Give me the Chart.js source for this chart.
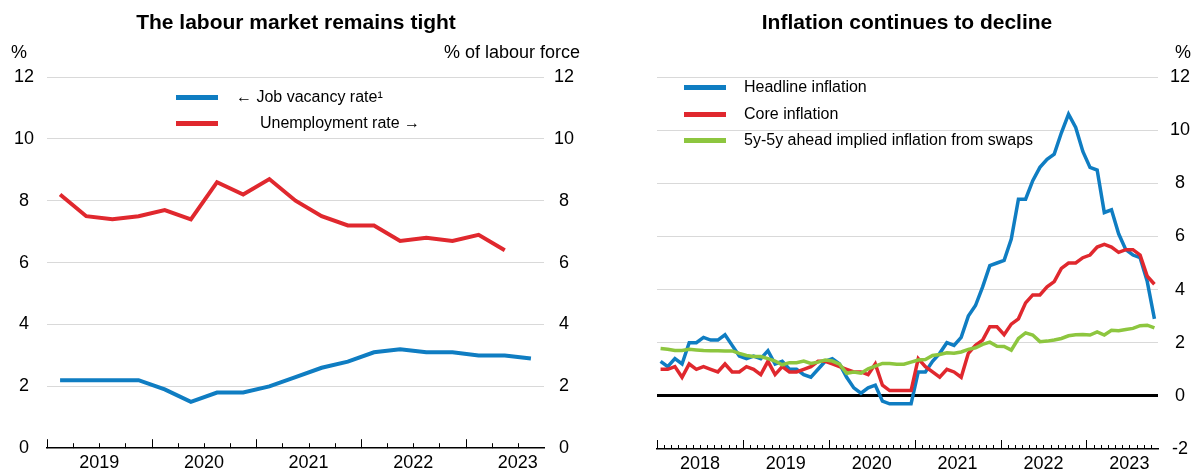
<!DOCTYPE html>
<html>
<head>
<meta charset="utf-8">
<script src="https://cdn.jsdelivr.net/npm/chart.js@4"></script>
<style>
  body { margin: 0; width: 1203px; height: 472px; background: #fff; position: relative; overflow: hidden;
         font-family: "Liberation Sans", Arial, sans-serif; color: #000; }
  .panel { position: absolute; top: 0; height: 472px; }
  .panel canvas { display: block; }
  .title { position: absolute; top: 10px; font-weight: bold; font-size: 21px; white-space: nowrap; transform: translateX(-50%); }
  .unit { position: absolute; top: 42px; font-size: 18px; white-space: nowrap; }
  .leg { position: absolute; font-size: 16px; white-space: nowrap; line-height: 20px; }
  .swatch { position: absolute; width: 42px; height: 4.5px; }
</style>
</head>
<body>

<div class="panel" style="left:0;width:600px"><canvas id="chart-labour" width="600" height="472"></canvas></div>
<div class="panel" style="left:600px;width:603px"><canvas id="chart-inflation" width="603" height="472"></canvas></div>

<div class="title" style="left:296px">The labour market remains tight</div>
<div class="title" style="left:907px">Inflation continues to decline</div>

<div class="unit" style="left:11px">%</div>
<div class="unit" style="right:623px">% of labour force</div>
<div class="unit" style="left:1175px">%</div>

<div class="swatch" style="left:176px;top:95px;background:#0F7DC2"></div>
<div class="leg" style="left:236px;top:87px">← Job vacancy rate¹</div>
<div class="swatch" style="left:176px;top:121px;background:#E0282E"></div>
<div class="leg" style="left:260px;top:113px">Unemployment rate →</div>

<div class="swatch" style="left:684px;top:85px;background:#0F7DC2"></div>
<div class="leg" style="left:744px;top:77px">Headline inflation</div>
<div class="swatch" style="left:684px;top:112px;background:#E0282E"></div>
<div class="leg" style="left:744px;top:104px">Core inflation</div>
<div class="swatch" style="left:684px;top:138px;background:#8DC63F"></div>
<div class="leg" style="left:744px;top:130px">5y-5y ahead implied inflation from swaps</div>

<script>
// quarterly data, 2019 Q1 - 2023 Q3
var quarters = ['2019Q1','2019Q2','2019Q3','2019Q4','2020Q1','2020Q2','2020Q3','2020Q4',
  '2021Q1','2021Q2','2021Q3','2021Q4','2022Q1','2022Q2','2022Q3','2022Q4','2023Q1','2023Q2','2023Q3'];
var jobVacancy = [2.2,2.2,2.2,2.2,1.9,1.5,1.8,1.8,2.0,2.3,2.6,2.8,3.1,3.2,3.1,3.1,3.0,3.0,2.9];
var unemployment = [8.2,7.5,7.4,7.5,7.7,7.4,8.6,8.2,8.7,8.0,7.5,7.2,7.2,6.7,6.8,6.7,6.9,6.4];
var labourYears = ['2019','2020','2021','2022','2023'];

// monthly data, Jan 2018 - Oct 2023
var monthCount = 70;
var headline = [
  1.3,1.1,1.4,1.2,2.0,2.0,2.2,2.1,2.1,2.3,1.9,1.5,
  1.4,1.5,1.4,1.7,1.2,1.3,1.0,1.0,0.8,0.7,1.0,1.3,
  1.4,1.2,0.7,0.3,0.1,0.3,0.4,-0.2,-0.3,-0.3,-0.3,-0.3,
  0.9,0.9,1.3,1.6,2.0,1.9,2.2,3.0,3.4,4.1,4.9,5.0,
  5.1,5.9,7.4,7.4,8.1,8.6,8.9,9.1,9.9,10.6,10.1,9.2,
  8.6,8.5,6.9,7.0,6.1,5.5,5.3,5.2,4.3,2.9];
var core = [
  1.0,1.0,1.1,0.7,1.2,1.0,1.1,1.0,0.9,1.2,0.9,0.9,
  1.1,1.0,0.8,1.3,0.8,1.1,0.9,0.9,1.0,1.1,1.3,1.3,
  1.2,1.1,1.0,0.9,0.9,0.8,1.2,0.4,0.2,0.2,0.2,0.2,
  1.4,1.1,0.9,0.7,1.0,0.9,0.7,1.6,1.9,2.1,2.6,2.6,
  2.3,2.7,2.9,3.5,3.8,3.8,4.1,4.3,4.8,5.0,5.0,5.2,
  5.3,5.6,5.7,5.6,5.4,5.5,5.5,5.3,4.5,4.2];
var swaps = [
  1.78,1.75,1.71,1.71,1.75,1.73,1.71,1.70,1.70,1.69,1.69,1.60,
  1.52,1.48,1.48,1.40,1.31,1.17,1.25,1.25,1.31,1.22,1.27,1.35,
  1.31,1.19,0.85,0.90,0.85,1.02,1.12,1.22,1.22,1.19,1.19,1.27,
  1.35,1.37,1.52,1.56,1.62,1.60,1.65,1.75,1.81,1.94,2.02,1.87,
  1.86,1.72,2.16,2.37,2.29,2.04,2.06,2.10,2.16,2.26,2.30,2.31,
  2.29,2.41,2.29,2.47,2.45,2.50,2.54,2.64,2.66,2.56];
var inflationYears = ['2018','2019','2020','2021','2022','2023'];

var BLUE = '#0F7DC2', RED = '#E0282E', GREEN = '#8DC63F', GRID = '#d9d9d9';
var FONT = { family: '"Liberation Sans", Arial, sans-serif', size: 18 };

// points sit in the middle of each period
function toPoints(arr) {
  return arr.map(function(v, i) { return { x: i + 0.5, y: v }; });
}

// small upward tick marks on the time axis, longer at year starts
var tickMarks = {
  id: 'tickMarks',
  afterDraw: function(chart, args, opts) {
    var sx = chart.scales.x, ctx = chart.ctx, bottom = chart.chartArea.bottom;
    ctx.save();
    ctx.strokeStyle = '#000';
    ctx.lineWidth = 1;
    for (var j = 0; j < opts.count; j++) {
      var px = Math.round(sx.getPixelForValue(j)) + 0.5;
      var len = (j % opts.perYear === 0) ? 9 : opts.minor;
      ctx.beginPath();
      ctx.moveTo(px, bottom);
      ctx.lineTo(px, bottom - len);
      ctx.stroke();
    }
    ctx.restore();
  }
};

function timeAxis(count, perYear, years) {
  return {
    type: 'linear', min: 0, max: count,
    afterBuildTicks: function(scale) {
      scale.ticks = years.map(function(y, k) { return { value: k * perYear + perYear / 2 }; });
    },
    ticks: {
      autoSkip: false, maxRotation: 0, padding: 4, color: '#000', font: FONT,
      callback: function(v) { return years[Math.round((v - perYear / 2) / perYear)]; }
    },
    grid: { display: false, drawTicks: false },
    border: { display: true, color: '#000', width: 1.5 },
    afterFit: function(s) { s.height = 23; }
  };
}

// left chart
const ctx1 = document.getElementById('chart-labour').getContext('2d');
const labourChart = new Chart(ctx1, {
  type: 'line',
  data: {
    datasets: [{
      label: 'Job vacancy rate',
      data: toPoints(jobVacancy),
      yAxisID: 'y',
      borderColor: BLUE,
      borderWidth: 4,
      pointRadius: 0
    },
    {
      label: 'Unemployment rate',
      data: toPoints(unemployment),
      yAxisID: 'y2',
      borderColor: RED,
      borderWidth: 4,
      pointRadius: 0
    }]
  },
  options: {
    responsive: false,
    animation: false,
    layout: { padding: { top: 77, left: 0, right: 0, bottom: 0 } },
    plugins: { legend: { display: false }, tooltip: { enabled: false }, tickMarks: { count: 19, perYear: 4, minor: 5 } },
    elements: { line: { tension: 0 } },
    scales: {
      x: timeAxis(quarters.length, 4, labourYears),
      y: {
        position: 'left', min: 0, max: 12,
        ticks: { stepSize: 2, padding: 13, crossAlign: 'center', color: '#000', font: FONT },
        grid: { drawTicks: false, color: function(c) { return c.tick.value === 0 ? 'rgba(0,0,0,0)' : GRID; } },
        border: { display: false },
        afterFit: function(s) { s.width = 47; }
      },
      y2: {
        position: 'right', min: 0, max: 12,
        ticks: { stepSize: 2, padding: 10, crossAlign: 'center', color: '#000', font: FONT },
        grid: { drawOnChartArea: false, drawTicks: false },
        border: { display: false },
        afterFit: function(s) { s.width = 56; }
      }
    }
  },
  plugins: [tickMarks]
});

// right chart (green on top, then red, then blue)
const ctx2 = document.getElementById('chart-inflation').getContext('2d');
const inflationChart = new Chart(ctx2, {
  type: 'line',
  data: {
    datasets: [{
      label: 'Headline inflation',
      data: toPoints(headline),
      borderColor: BLUE,
      borderWidth: 3.5,
      pointRadius: 0,
      order: 2
    },
    {
      label: 'Core inflation',
      data: toPoints(core),
      borderColor: RED,
      borderWidth: 3.5,
      pointRadius: 0,
      order: 1
    },
    {
      label: '5y-5y ahead implied inflation from swaps',
      data: toPoints(swaps),
      borderColor: GREEN,
      borderWidth: 3.5,
      pointRadius: 0,
      order: 0
    }]
  },
  options: {
    responsive: false,
    animation: false,
    layout: { padding: { top: 77, left: 57, right: 0, bottom: 0 } },
    plugins: { legend: { display: false }, tooltip: { enabled: false }, tickMarks: { count: monthCount, perYear: 12, minor: 4 } },
    elements: { line: { tension: 0 } },
    scales: {
      x: timeAxis(monthCount, 12, inflationYears),
      y: {
        position: 'right', min: -2, max: 12,
        ticks: { stepSize: 2, padding: 12, crossAlign: 'center', color: '#000', font: FONT },
        grid: {
          drawTicks: false,
          color: function(c) {
            if (c.tick.value === 0) return '#000';
            if (c.tick.value === -2) return 'rgba(0,0,0,0)';
            return GRID;
          },
          lineWidth: function(c) { return c.tick.value === 0 ? 3 : 1; }
        },
        border: { display: false },
        afterFit: function(s) { s.width = 45; }
      }
    }
  },
  plugins: [tickMarks]
});
</script>
</body>
</html>
